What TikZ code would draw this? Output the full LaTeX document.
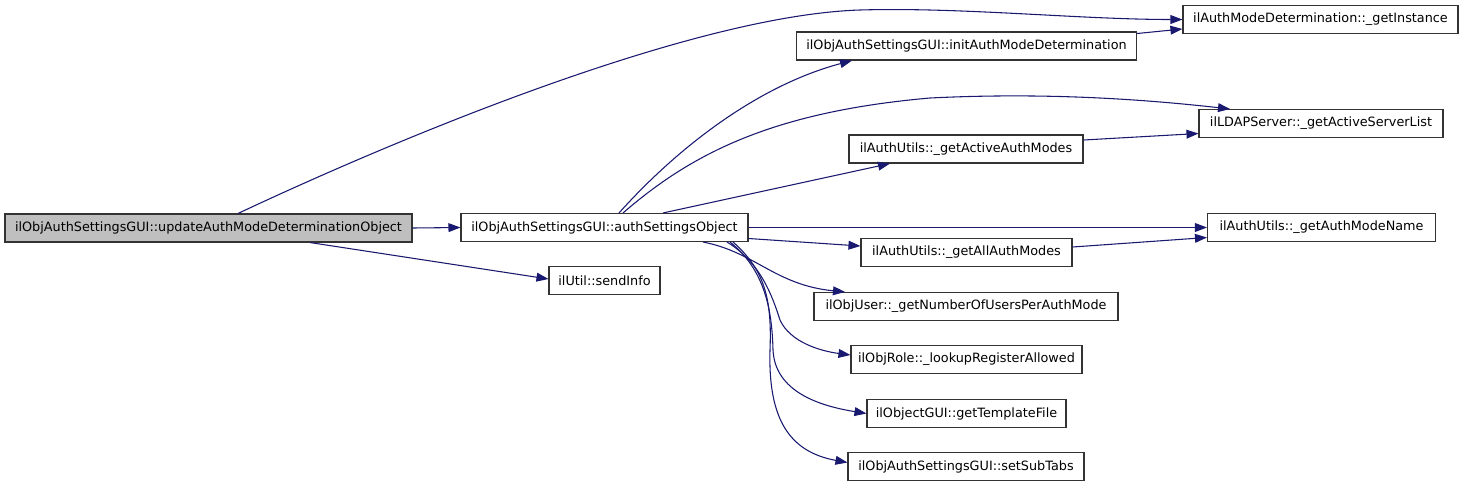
\documentclass[tikz,border=0pt]{standalone}
\usepackage{fontspec}
\setmainfont{DejaVu Sans}
\usetikzlibrary{arrows.meta,calc}
\definecolor{edgec}{HTML}{191970}
\definecolor{boxline}{HTML}{333333}
\definecolor{hlfill}{HTML}{BFBFBF}
\tikzset{
  fn/.style={draw=boxline, line width=0.8pt, rectangle, inner sep=0pt,
    minimum height=21pt, font=\fontsize{9.6pt}{11pt}\selectfont, text=black},
  call/.style={draw=edgec, line width=0.8pt,
    -{Triangle[length=9pt,width=6.6pt]}, color=edgec},
}
\begin{document}
\begin{tikzpicture}[x=0.75pt,y=-0.75pt]
\useasboundingbox (0,0) rectangle (1464,487);
\fill[white] (0,0) rectangle (1464,487);
% nodes
\node[fn, fill=hlfill, minimum width=305.25pt] (upd) at (208.5,228) {ilObjAuthSettingsGUI::updateAuthModeDeterminationObject};
\node[fn, minimum width=215.25pt] (aso) at (604.5,227.5) {ilObjAuthSettingsGUI::authSettingsObject};
\node[fn, minimum width=83.25pt] (send) at (604.5,280.5) {ilUtil::sendInfo};
\node[fn, minimum width=206.25pt] (ginst) at (1320.5,19.5) {ilAuthModeDetermination::\_getInstance};
\node[fn, minimum width=255pt] (init) at (966.5,46) {ilObjAuthSettingsGUI::initAuthModeDetermination};
\node[fn, minimum width=183pt] (srv) at (1321,123.5) {ilLDAPServer::\_getActiveServerList};
\node[fn, minimum width=175.5pt] (gam) at (966,149) {ilAuthUtils::\_getActiveAuthModes};
\node[fn, minimum width=171pt] (amn) at (1321.5,227.5) {ilAuthUtils::\_getAuthModeName};
\node[fn, minimum width=158.25pt] (all) at (966.5,252.5) {ilAuthUtils::\_getAllAuthModes};
\node[fn, minimum width=228pt] (nou) at (966,306.5) {ilObjUser::\_getNumberOfUsersPerAuthMode};
\node[fn, minimum width=173.25pt] (lra) at (966.5,359.5) {ilObjRole::\_lookupRegisterAllowed};
\node[fn, minimum width=149.25pt] (gtf) at (966.5,413.5) {ilObjectGUI::getTemplateFile};
\node[fn, minimum width=177pt] (sst) at (966,466.5) {ilObjAuthSettingsGUI::setSubTabs};
% edges
\draw[call] (upd.east) -- (aso.west);
\draw[call] ($(upd.south)+(101.5,0)$) -- ($(send.west)+(0,-1.5)$);
\draw[call] ($(upd.north)+(29.5,0)$) .. controls (420,128) and (700,15) .. (860,10)
  .. controls (960,7) and (1080,19.5) .. (ginst.west);
\draw[call] ($(aso.north)+(14.5,0)$) .. controls (680,145) and (760,85) .. ($(init.south)+(-114.5,0)$);
\draw[call] ($(aso.north)+(18.5,0)$) .. controls (690,155) and (770,112) .. (930,98)
  .. controls (1050,92) and (1150,100) .. ($(srv.north)+(-91,0)$);
\draw[call] ($(aso.north)+(58.5,0)$) -- ($(gam.south)+(-76,0)$);
\draw[call] (aso.east) -- (amn.west);
\draw[call] ($(aso.east)+(0,11)$) -- ($(all.west)+(0,-6.5)$);
\draw[call] ($(aso.south)+(98.5,0)$) .. controls (755,252) and (775,285) .. ($(nou.north)+(-121,0)$);
\draw[call] ($(aso.south)+(122.5,0)$) .. controls (760,262) and (772,295) .. (780,320)
  .. controls (790,342) and (820,351) .. ($(lra.west)+(0,-4.5)$);
\draw[call] ($(aso.south)+(125.5,0)$) .. controls (765,270) and (772,310) .. (773,350)
  .. controls (775,392) and (820,406) .. (gtf.west);
\draw[call] ($(aso.south)+(128.5,0)$) .. controls (765,270) and (772,300) .. (770,350)
  .. controls (768,420) and (790,452) .. ($(sst.west)+(0,-4)$);
\draw[call] ($(init.east)+(0,-12.5)$) -- ($(ginst.west)+(0,9.5)$);
\draw[call] ($(gam.east)+(0,-9)$) -- ($(srv.west)+(0,10)$);
\draw[call] ($(all.east)+(0,-5.5)$) -- ($(amn.west)+(0,10)$);
\end{tikzpicture}
\end{document}
